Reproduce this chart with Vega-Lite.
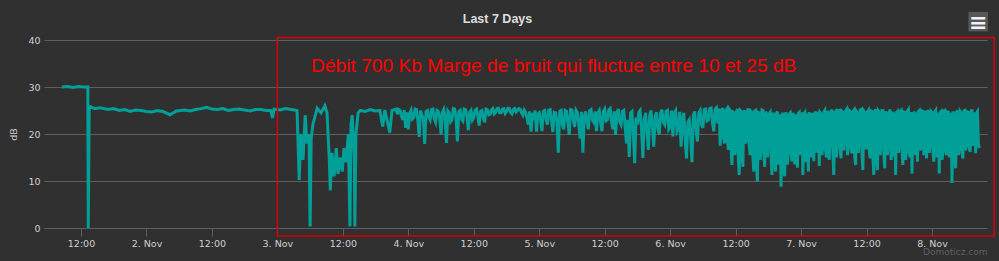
{
  "$schema": "https://vega.github.io/schema/vega-lite/v6.json",
  "width": 943,
  "height": 188,
  "autosize": {"type": "none"},
  "padding": {"left": 44, "top": 40, "right": 12, "bottom": 33},
  "background": "#303031",
  "title": {"text": "Last 7 Days", "anchor": "middle", "offset": -24, "dx": -18, "baseline": "alphabetic", "font": "Liberation Sans", "fontSize": 12.5, "fontWeight": "bold", "color": "#dedede"},
  "config": {"view": {"stroke": null}},
  "encoding": {
    "x": {
      "field": "t", "type": "temporal",
      "scale": {"type": "utc", "domain": [1414818780000, 1415441100000]},
      "axis": {
        "title": "Domoticz.com", "titleAnchor": "end", "titleAlign": "right", "titleBaseline": "top", "titlePadding": 0, "titleFont": "DejaVu Sans", "titleFontSize": 9, "titleFontWeight": "normal", "titleColor": "#5f5f60",
        "values": [1414843200000, 1414886400000, 1414929600000, 1414972800000, 1415016000000, 1415059200000, 1415102400000, 1415145600000, 1415188800000, 1415232000000, 1415275200000, 1415318400000, 1415361600000, 1415404800000],
        "labelExpr": "utchours(datum.value) == 0 ? utcFormat(datum.value, '%-d. %b') : utcFormat(datum.value, '%H:%M')",
        "labelFont": "DejaVu Sans", "labelFontSize": 9.5, "labelColor": "#cfcfcf", "labelPadding": 2, "labelFlush": false, "labelOverlap": false,
        "grid": false, "domain": true, "domainColor": "#5e5e5e", "ticks": true, "tickColor": "#5e5e5e", "tickSize": 8
      }
    },
    "y": {
      "field": "v", "type": "quantitative",
      "scale": {"domain": [0, 40], "nice": false},
      "axis": {
        "title": "dB", "titleFont": "DejaVu Sans", "titleFontSize": 9.5, "titleFontWeight": "normal", "titleColor": "#cfcfcf", "titlePadding": 9,
        "values": [0, 10, 20, 30, 40], "labelFont": "DejaVu Sans", "labelFontSize": 9.5, "labelColor": "#cfcfcf", "labelPadding": 4,
        "grid": true, "gridColor": "#5e5e5e", "gridWidth": 1, "domain": false, "ticks": false
      }
    }
  },
  "layer": [
    {
      "data": {
        "values": [
          {"t": "2014-11-01T08:30Z", "v": 30}, {"t": "2014-11-01T09:30Z", "v": 30.1}, {"t": "2014-11-01T10:30Z", "v": 29.9}, {"t": "2014-11-01T11:30Z", "v": 30.1}, {"t": "2014-11-01T12:30Z", "v": 30}, {"t": "2014-11-01T13:15Z", "v": 30}, {"t": "2014-11-01T13:20Z", "v": 0}, {"t": "2014-11-01T13:30Z", "v": 25.2}, {"t": "2014-11-01T13:45Z", "v": 25.8}, {"t": "2014-11-01T14:30Z", "v": 25.4}, {"t": "2014-11-01T15:30Z", "v": 25.6}, {"t": "2014-11-01T17:00Z", "v": 25.2}, {"t": "2014-11-01T18:00Z", "v": 25.4}, {"t": "2014-11-01T19:00Z", "v": 25.0}, {"t": "2014-11-01T20:00Z", "v": 25.2}, {"t": "2014-11-01T21:00Z", "v": 24.8}, {"t": "2014-11-01T22:00Z", "v": 25.1}, {"t": "2014-11-01T23:00Z", "v": 25.0},
          {"t": "2014-11-02T00:00Z", "v": 24.8}, {"t": "2014-11-02T01:00Z", "v": 24.7}, {"t": "2014-11-02T02:00Z", "v": 25.0}, {"t": "2014-11-02T03:00Z", "v": 24.8}, {"t": "2014-11-02T04:18Z", "v": 24.1}, {"t": "2014-11-02T05:30Z", "v": 24.9}, {"t": "2014-11-02T07:00Z", "v": 25.1}, {"t": "2014-11-02T08:00Z", "v": 24.9}, {"t": "2014-11-02T09:00Z", "v": 25.2}, {"t": "2014-11-02T10:00Z", "v": 25.4}, {"t": "2014-11-02T11:00Z", "v": 25.7}, {"t": "2014-11-02T12:00Z", "v": 25.3}, {"t": "2014-11-02T13:00Z", "v": 25.2}, {"t": "2014-11-02T14:00Z", "v": 25.4}, {"t": "2014-11-02T15:00Z", "v": 25.0}, {"t": "2014-11-02T16:00Z", "v": 25.2}, {"t": "2014-11-02T17:00Z", "v": 25.3}, {"t": "2014-11-02T18:00Z", "v": 25.1}, {"t": "2014-11-02T19:00Z", "v": 24.9}, {"t": "2014-11-02T20:00Z", "v": 25.2}, {"t": "2014-11-02T21:00Z", "v": 25.2}, {"t": "2014-11-02T22:00Z", "v": 25.0}, {"t": "2014-11-02T22:48Z", "v": 25.0}, {"t": "2014-11-02T23:06Z", "v": 23.4}, {"t": "2014-11-02T23:24Z", "v": 25.3},
          {"t": "2014-11-03T00:30Z", "v": 25.1}, {"t": "2014-11-03T01:30Z", "v": 25.4}, {"t": "2014-11-03T02:30Z", "v": 25.2}, {"t": "2014-11-03T03:36Z", "v": 25}, {"t": "2014-11-03T04:00Z", "v": 10.2}, {"t": "2014-11-03T04:18Z", "v": 20}, {"t": "2014-11-03T04:42Z", "v": 14.5}, {"t": "2014-11-03T05:06Z", "v": 24}, {"t": "2014-11-03T05:24Z", "v": 18}, {"t": "2014-11-03T05:48Z", "v": 20}, {"t": "2014-11-03T06:00Z", "v": 0.3}, {"t": "2014-11-03T06:12Z", "v": 19}, {"t": "2014-11-03T06:30Z", "v": 22}, {"t": "2014-11-03T07:18Z", "v": 25.5}, {"t": "2014-11-03T08:00Z", "v": 24.5}, {"t": "2014-11-03T08:42Z", "v": 26}, {"t": "2014-11-03T09:06Z", "v": 24.5}, {"t": "2014-11-03T09:30Z", "v": 15}, {"t": "2014-11-03T09:42Z", "v": 8}, {"t": "2014-11-03T10:00Z", "v": 16}, {"t": "2014-11-03T10:24Z", "v": 11}, {"t": "2014-11-03T10:48Z", "v": 17}, {"t": "2014-11-03T11:06Z", "v": 11.5}, {"t": "2014-11-03T11:30Z", "v": 15}, {"t": "2014-11-03T11:54Z", "v": 12}, {"t": "2014-11-03T12:12Z", "v": 17}, {"t": "2014-11-03T12:36Z", "v": 14}, {"t": "2014-11-03T13:00Z", "v": 20}, {"t": "2014-11-03T13:18Z", "v": 0.3}, {"t": "2014-11-03T13:30Z", "v": 22}, {"t": "2014-11-03T13:42Z", "v": 24}, {"t": "2014-11-03T14:06Z", "v": 15}, {"t": "2014-11-03T14:12Z", "v": 0.3}, {"t": "2014-11-03T14:24Z", "v": 20}, {"t": "2014-11-03T14:48Z", "v": 24.5}, {"t": "2014-11-03T15:12Z", "v": 25}, {"t": "2014-11-03T16:06Z", "v": 24.8}, {"t": "2014-11-03T17:00Z", "v": 25.2}, {"t": "2014-11-03T17:54Z", "v": 24.9}, {"t": "2014-11-03T18:48Z", "v": 25}, {"t": "2014-11-03T19:18Z", "v": 21.6}, {"t": "2014-11-03T19:42Z", "v": 25.1}, {"t": "2014-11-03T20:36Z", "v": 20.3}, {"t": "2014-11-03T21:00Z", "v": 25}, {"t": "2014-11-03T21:48Z", "v": 25.3},
          {"t": "2014-11-03T22:00Z", "v": 24.2}, {"t": "2014-11-03T22:15Z", "v": 25.2}, {"t": "2014-11-03T22:30Z", "v": 25}, {"t": "2014-11-03T22:45Z", "v": 23.8}, {"t": "2014-11-03T23:00Z", "v": 23}, {"t": "2014-11-03T23:15Z", "v": 25.1}, {"t": "2014-11-03T23:30Z", "v": 21.3}, {"t": "2014-11-03T23:45Z", "v": 24.6},
          {"t": "2014-11-04T00:00Z", "v": 21}, {"t": "2014-11-04T00:15Z", "v": 24.3}, {"t": "2014-11-04T00:30Z", "v": 25}, {"t": "2014-11-04T00:45Z", "v": 23.2}, {"t": "2014-11-04T01:00Z", "v": 23.5}, {"t": "2014-11-04T01:15Z", "v": 25.3}, {"t": "2014-11-04T01:30Z", "v": 25.2}, {"t": "2014-11-04T01:45Z", "v": 22.8}, {"t": "2014-11-04T02:00Z", "v": 19.4}, {"t": "2014-11-04T02:15Z", "v": 25}, {"t": "2014-11-04T02:30Z", "v": 24}, {"t": "2014-11-04T02:45Z", "v": 23.4}, {"t": "2014-11-04T03:00Z", "v": 17.9}, {"t": "2014-11-04T03:15Z", "v": 24.8}, {"t": "2014-11-04T03:30Z", "v": 25}, {"t": "2014-11-04T03:45Z", "v": 23.6},
          {"t": "2014-11-04T04:00Z", "v": 23}, {"t": "2014-11-04T04:15Z", "v": 25.2}, {"t": "2014-11-04T04:30Z", "v": 25.3}, {"t": "2014-11-04T04:45Z", "v": 23.2}, {"t": "2014-11-04T05:00Z", "v": 22.5}, {"t": "2014-11-04T05:15Z", "v": 25}, {"t": "2014-11-04T05:30Z", "v": 24.8}, {"t": "2014-11-04T05:45Z", "v": 23.5}, {"t": "2014-11-04T06:00Z", "v": 19.9}, {"t": "2014-11-04T06:15Z", "v": 24.6}, {"t": "2014-11-04T06:30Z", "v": 25.2}, {"t": "2014-11-04T06:45Z", "v": 23.4}, {"t": "2014-11-04T07:00Z", "v": 18.1}, {"t": "2014-11-04T07:15Z", "v": 24.9}, {"t": "2014-11-04T07:30Z", "v": 24.5}, {"t": "2014-11-04T07:45Z", "v": 22.6},
          {"t": "2014-11-04T08:00Z", "v": 23}, {"t": "2014-11-04T08:15Z", "v": 25.4}, {"t": "2014-11-04T08:30Z", "v": 25.3}, {"t": "2014-11-04T08:45Z", "v": 23.5}, {"t": "2014-11-04T09:00Z", "v": 18.4}, {"t": "2014-11-04T09:15Z", "v": 24.7}, {"t": "2014-11-04T09:30Z", "v": 25}, {"t": "2014-11-04T09:45Z", "v": 23.2}, {"t": "2014-11-04T10:00Z", "v": 22.8}, {"t": "2014-11-04T10:15Z", "v": 25.3}, {"t": "2014-11-04T10:30Z", "v": 25.2}, {"t": "2014-11-04T10:45Z", "v": 23.8}, {"t": "2014-11-04T11:00Z", "v": 20.8}, {"t": "2014-11-04T11:15Z", "v": 24.6}, {"t": "2014-11-04T11:30Z", "v": 25}, {"t": "2014-11-04T11:45Z", "v": 23},
          {"t": "2014-11-04T12:00Z", "v": 23.5}, {"t": "2014-11-04T12:15Z", "v": 25.1}, {"t": "2014-11-04T12:30Z", "v": 25.3}, {"t": "2014-11-04T12:45Z", "v": 23.6}, {"t": "2014-11-04T13:00Z", "v": 21.8}, {"t": "2014-11-04T13:15Z", "v": 24.8}, {"t": "2014-11-04T13:30Z", "v": 25}, {"t": "2014-11-04T13:45Z", "v": 23.4}, {"t": "2014-11-04T14:00Z", "v": 22.5}, {"t": "2014-11-04T14:15Z", "v": 25.3}, {"t": "2014-11-04T14:30Z", "v": 25.2}, {"t": "2014-11-04T14:45Z", "v": 24.1}, {"t": "2014-11-04T15:00Z", "v": 24.2}, {"t": "2014-11-04T15:15Z", "v": 25.1}, {"t": "2014-11-04T15:30Z", "v": 25.4}, {"t": "2014-11-04T15:45Z", "v": 24.3},
          {"t": "2014-11-04T16:00Z", "v": 24.6}, {"t": "2014-11-04T16:15Z", "v": 25.4}, {"t": "2014-11-04T16:30Z", "v": 25.5}, {"t": "2014-11-04T16:45Z", "v": 24.5}, {"t": "2014-11-04T17:00Z", "v": 24.5}, {"t": "2014-11-04T17:15Z", "v": 25.3}, {"t": "2014-11-04T17:30Z", "v": 25.4}, {"t": "2014-11-04T17:45Z", "v": 24.4}, {"t": "2014-11-04T18:00Z", "v": 24.8}, {"t": "2014-11-04T18:15Z", "v": 25.5}, {"t": "2014-11-04T18:30Z", "v": 25.5}, {"t": "2014-11-04T18:45Z", "v": 24.6}, {"t": "2014-11-04T19:00Z", "v": 24.3}, {"t": "2014-11-04T19:15Z", "v": 25.2}, {"t": "2014-11-04T19:30Z", "v": 25.4}, {"t": "2014-11-04T19:45Z", "v": 24.7},
          {"t": "2014-11-04T20:00Z", "v": 25}, {"t": "2014-11-04T20:15Z", "v": 25.4}, {"t": "2014-11-04T20:30Z", "v": 25.3}, {"t": "2014-11-04T20:45Z", "v": 24.5}, {"t": "2014-11-04T21:00Z", "v": 24}, {"t": "2014-11-04T21:15Z", "v": 25.1}, {"t": "2014-11-04T21:30Z", "v": 24.6}, {"t": "2014-11-04T21:45Z", "v": 23.5}, {"t": "2014-11-04T22:00Z", "v": 22}, {"t": "2014-11-04T22:15Z", "v": 24.8}, {"t": "2014-11-04T22:30Z", "v": 20.5}, {"t": "2014-11-04T22:45Z", "v": 24.5}, {"t": "2014-11-04T23:00Z", "v": 23}, {"t": "2014-11-04T23:15Z", "v": 25}, {"t": "2014-11-04T23:30Z", "v": 20.5}, {"t": "2014-11-04T23:45Z", "v": 24.2},
          {"t": "2014-11-05T00:00Z", "v": 24.5}, {"t": "2014-11-05T00:15Z", "v": 23}, {"t": "2014-11-05T00:30Z", "v": 20.6}, {"t": "2014-11-05T00:45Z", "v": 24.8}, {"t": "2014-11-05T01:00Z", "v": 25}, {"t": "2014-11-05T01:15Z", "v": 23.2}, {"t": "2014-11-05T01:30Z", "v": 22}, {"t": "2014-11-05T01:45Z", "v": 25.1}, {"t": "2014-11-05T02:00Z", "v": 25.2}, {"t": "2014-11-05T02:15Z", "v": 22.8}, {"t": "2014-11-05T02:30Z", "v": 20.4}, {"t": "2014-11-05T02:45Z", "v": 24.6}, {"t": "2014-11-05T03:00Z", "v": 24.5}, {"t": "2014-11-05T03:15Z", "v": 22.5}, {"t": "2014-11-05T03:30Z", "v": 16}, {"t": "2014-11-05T03:45Z", "v": 24.8},
          {"t": "2014-11-05T04:00Z", "v": 25}, {"t": "2014-11-05T04:15Z", "v": 22}, {"t": "2014-11-05T04:30Z", "v": 21}, {"t": "2014-11-05T04:45Z", "v": 25}, {"t": "2014-11-05T05:00Z", "v": 24.8}, {"t": "2014-11-05T05:15Z", "v": 22.5}, {"t": "2014-11-05T05:30Z", "v": 19.8}, {"t": "2014-11-05T05:45Z", "v": 25.2}, {"t": "2014-11-05T06:00Z", "v": 25.1}, {"t": "2014-11-05T06:15Z", "v": 23}, {"t": "2014-11-05T06:30Z", "v": 21.5}, {"t": "2014-11-05T06:45Z", "v": 25}, {"t": "2014-11-05T07:00Z", "v": 24.5}, {"t": "2014-11-05T07:15Z", "v": 22}, {"t": "2014-11-05T07:30Z", "v": 19}, {"t": "2014-11-05T07:45Z", "v": 24.7},
          {"t": "2014-11-05T08:00Z", "v": 16}, {"t": "2014-11-05T08:15Z", "v": 23.5}, {"t": "2014-11-05T08:30Z", "v": 24.8}, {"t": "2014-11-05T08:45Z", "v": 22.6}, {"t": "2014-11-05T09:00Z", "v": 21}, {"t": "2014-11-05T09:15Z", "v": 25}, {"t": "2014-11-05T09:30Z", "v": 25.2}, {"t": "2014-11-05T09:45Z", "v": 23}, {"t": "2014-11-05T10:00Z", "v": 22.5}, {"t": "2014-11-05T10:15Z", "v": 24.8}, {"t": "2014-11-05T10:30Z", "v": 20.6}, {"t": "2014-11-05T10:45Z", "v": 24.5}, {"t": "2014-11-05T11:00Z", "v": 25}, {"t": "2014-11-05T11:15Z", "v": 22.5}, {"t": "2014-11-05T11:30Z", "v": 20.6}, {"t": "2014-11-05T11:45Z", "v": 24.8},
          {"t": "2014-11-05T12:00Z", "v": 25.3}, {"t": "2014-11-05T12:15Z", "v": 22.8}, {"t": "2014-11-05T12:30Z", "v": 23}, {"t": "2014-11-05T12:45Z", "v": 25.1}, {"t": "2014-11-05T13:00Z", "v": 25.4}, {"t": "2014-11-05T13:15Z", "v": 22.5}, {"t": "2014-11-05T13:30Z", "v": 21}, {"t": "2014-11-05T13:45Z", "v": 24.8}, {"t": "2014-11-05T14:00Z", "v": 19.8}, {"t": "2014-11-05T14:15Z", "v": 24.5}, {"t": "2014-11-05T14:30Z", "v": 25.3}, {"t": "2014-11-05T14:45Z", "v": 22.6}, {"t": "2014-11-05T15:00Z", "v": 22}, {"t": "2014-11-05T15:15Z", "v": 24.8}, {"t": "2014-11-05T15:30Z", "v": 25}, {"t": "2014-11-05T15:45Z", "v": 21.5},
          {"t": "2014-11-05T16:00Z", "v": 18}, {"t": "2014-11-05T16:15Z", "v": 23}, {"t": "2014-11-05T16:30Z", "v": 15.1}, {"t": "2014-11-05T16:45Z", "v": 24.5}, {"t": "2014-11-05T17:00Z", "v": 24.8}, {"t": "2014-11-05T17:15Z", "v": 20}, {"t": "2014-11-05T17:30Z", "v": 13.8}, {"t": "2014-11-05T17:45Z", "v": 23.5}, {"t": "2014-11-05T18:00Z", "v": 22}, {"t": "2014-11-05T18:15Z", "v": 24.6}, {"t": "2014-11-05T18:30Z", "v": 25}, {"t": "2014-11-05T18:45Z", "v": 21}, {"t": "2014-11-05T19:00Z", "v": 14.9}, {"t": "2014-11-05T19:15Z", "v": 23}, {"t": "2014-11-05T19:30Z", "v": 24.5}, {"t": "2014-11-05T19:45Z", "v": 20.5},
          {"t": "2014-11-05T20:00Z", "v": 16.6}, {"t": "2014-11-05T20:15Z", "v": 24}, {"t": "2014-11-05T20:30Z", "v": 25}, {"t": "2014-11-05T20:45Z", "v": 21.5}, {"t": "2014-11-05T21:00Z", "v": 17.3}, {"t": "2014-11-05T21:15Z", "v": 23.8}, {"t": "2014-11-05T21:30Z", "v": 24.6}, {"t": "2014-11-05T21:45Z", "v": 21}, {"t": "2014-11-05T22:00Z", "v": 19.9}, {"t": "2014-11-05T22:15Z", "v": 24.5}, {"t": "2014-11-05T22:30Z", "v": 25.2}, {"t": "2014-11-05T22:45Z", "v": 22.5}, {"t": "2014-11-05T23:00Z", "v": 22}, {"t": "2014-11-05T23:15Z", "v": 24.8}, {"t": "2014-11-05T23:30Z", "v": 25}, {"t": "2014-11-05T23:45Z", "v": 21},
          {"t": "2014-11-06T00:00Z", "v": 21.5}, {"t": "2014-11-06T00:15Z", "v": 25}, {"t": "2014-11-06T00:30Z", "v": 19.5}, {"t": "2014-11-06T00:45Z", "v": 24.5}, {"t": "2014-11-06T01:00Z", "v": 25}, {"t": "2014-11-06T01:15Z", "v": 20.5}, {"t": "2014-11-06T01:30Z", "v": 21}, {"t": "2014-11-06T01:45Z", "v": 24.7}, {"t": "2014-11-06T02:00Z", "v": 17.3}, {"t": "2014-11-06T02:15Z", "v": 23}, {"t": "2014-11-06T02:30Z", "v": 24.5}, {"t": "2014-11-06T02:45Z", "v": 19}, {"t": "2014-11-06T03:00Z", "v": 14.8}, {"t": "2014-11-06T03:15Z", "v": 22.5}, {"t": "2014-11-06T03:30Z", "v": 23}, {"t": "2014-11-06T03:45Z", "v": 19.5},
          {"t": "2014-11-06T04:00Z", "v": 14}, {"t": "2014-11-06T04:15Z", "v": 24}, {"t": "2014-11-06T04:30Z", "v": 24.8}, {"t": "2014-11-06T04:45Z", "v": 21}, {"t": "2014-11-06T05:00Z", "v": 18.4}, {"t": "2014-11-06T05:15Z", "v": 24.5}, {"t": "2014-11-06T05:30Z", "v": 25}, {"t": "2014-11-06T05:45Z", "v": 22}, {"t": "2014-11-06T06:00Z", "v": 21.3}, {"t": "2014-11-06T06:15Z", "v": 25.2}, {"t": "2014-11-06T06:30Z", "v": 25.3}, {"t": "2014-11-06T06:45Z", "v": 22.8}, {"t": "2014-11-06T07:00Z", "v": 23}, {"t": "2014-11-06T07:15Z", "v": 25.4}, {"t": "2014-11-06T07:30Z", "v": 25.5}, {"t": "2014-11-06T07:45Z", "v": 22.5},
          {"t": "2014-11-06T08:00Z", "v": 20.6}, {"t": "2014-11-06T08:15Z", "v": 25.3}, {"t": "2014-11-06T08:30Z", "v": 25.6}, {"t": "2014-11-06T08:45Z", "v": 22.2},
          {"t": "2014-11-06T09:00Z", "v": 25.4}, {"t": "2014-11-06T09:10Z", "v": 17.5}, {"t": "2014-11-06T09:20Z", "v": 21}, {"t": "2014-11-06T09:30Z", "v": 25.1}, {"t": "2014-11-06T09:40Z", "v": 25.5}, {"t": "2014-11-06T09:50Z", "v": 19},
          {"t": "2014-11-06T10:00Z", "v": 18}, {"t": "2014-11-06T10:10Z", "v": 24.9}, {"t": "2014-11-06T10:20Z", "v": 25.2}, {"t": "2014-11-06T10:30Z", "v": 19.5}, {"t": "2014-11-06T10:40Z", "v": 16.6}, {"t": "2014-11-06T10:50Z", "v": 25.3},
          {"t": "2014-11-06T11:00Z", "v": 25}, {"t": "2014-11-06T11:10Z", "v": 17}, {"t": "2014-11-06T11:20Z", "v": 13.4}, {"t": "2014-11-06T11:30Z", "v": 24.7}, {"t": "2014-11-06T11:40Z", "v": 24.6}, {"t": "2014-11-06T11:50Z", "v": 15.5},
          {"t": "2014-11-06T12:00Z", "v": 17}, {"t": "2014-11-06T12:10Z", "v": 24.8}, {"t": "2014-11-06T12:20Z", "v": 25.3}, {"t": "2014-11-06T12:30Z", "v": 14.5}, {"t": "2014-11-06T12:40Z", "v": 11.3}, {"t": "2014-11-06T12:50Z", "v": 25},
          {"t": "2014-11-06T13:00Z", "v": 24.8}, {"t": "2014-11-06T13:10Z", "v": 16.5}, {"t": "2014-11-06T13:20Z", "v": 13}, {"t": "2014-11-06T13:30Z", "v": 24.6}, {"t": "2014-11-06T13:40Z", "v": 25}, {"t": "2014-11-06T13:50Z", "v": 18},
          {"t": "2014-11-06T14:00Z", "v": 19}, {"t": "2014-11-06T14:10Z", "v": 25}, {"t": "2014-11-06T14:20Z", "v": 25.4}, {"t": "2014-11-06T14:30Z", "v": 17.5}, {"t": "2014-11-06T14:40Z", "v": 15.5}, {"t": "2014-11-06T14:50Z", "v": 24.8},
          {"t": "2014-11-06T15:00Z", "v": 24.6}, {"t": "2014-11-06T15:10Z", "v": 15}, {"t": "2014-11-06T15:20Z", "v": 12}, {"t": "2014-11-06T15:30Z", "v": 24.9}, {"t": "2014-11-06T15:40Z", "v": 25}, {"t": "2014-11-06T15:50Z", "v": 13.5},
          {"t": "2014-11-06T16:00Z", "v": 9.9}, {"t": "2014-11-06T16:10Z", "v": 24.6}, {"t": "2014-11-06T16:20Z", "v": 24.5}, {"t": "2014-11-06T16:30Z", "v": 14.5}, {"t": "2014-11-06T16:40Z", "v": 17}, {"t": "2014-11-06T16:50Z", "v": 25.1},
          {"t": "2014-11-06T17:00Z", "v": 25}, {"t": "2014-11-06T17:10Z", "v": 16}, {"t": "2014-11-06T17:20Z", "v": 13}, {"t": "2014-11-06T17:30Z", "v": 24.8}, {"t": "2014-11-06T17:40Z", "v": 24.2}, {"t": "2014-11-06T17:50Z", "v": 15},
          {"t": "2014-11-06T18:00Z", "v": 18}, {"t": "2014-11-06T18:10Z", "v": 24.3}, {"t": "2014-11-06T18:20Z", "v": 24.6}, {"t": "2014-11-06T18:30Z", "v": 15.5}, {"t": "2014-11-06T18:40Z", "v": 11.3}, {"t": "2014-11-06T18:50Z", "v": 24.5},
          {"t": "2014-11-06T19:00Z", "v": 24}, {"t": "2014-11-06T19:10Z", "v": 14.5}, {"t": "2014-11-06T19:20Z", "v": 12}, {"t": "2014-11-06T19:30Z", "v": 24.4}, {"t": "2014-11-06T19:40Z", "v": 24.8}, {"t": "2014-11-06T19:50Z", "v": 13.5},
          {"t": "2014-11-06T20:00Z", "v": 16}, {"t": "2014-11-06T20:10Z", "v": 24.2}, {"t": "2014-11-06T20:20Z", "v": 8.8}, {"t": "2014-11-06T20:30Z", "v": 24}, {"t": "2014-11-06T20:40Z", "v": 24.5}, {"t": "2014-11-06T20:50Z", "v": 12.5},
          {"t": "2014-11-06T21:00Z", "v": 11}, {"t": "2014-11-06T21:10Z", "v": 24.6}, {"t": "2014-11-06T21:20Z", "v": 24}, {"t": "2014-11-06T21:30Z", "v": 13.5}, {"t": "2014-11-06T21:40Z", "v": 17}, {"t": "2014-11-06T21:50Z", "v": 24.3},
          {"t": "2014-11-06T22:00Z", "v": 24.5}, {"t": "2014-11-06T22:10Z", "v": 16}, {"t": "2014-11-06T22:20Z", "v": 14.2}, {"t": "2014-11-06T22:30Z", "v": 24.5}, {"t": "2014-11-06T22:40Z", "v": 23.8}, {"t": "2014-11-06T22:50Z", "v": 13.5},
          {"t": "2014-11-06T23:00Z", "v": 19}, {"t": "2014-11-06T23:10Z", "v": 24.2}, {"t": "2014-11-06T23:20Z", "v": 12.8}, {"t": "2014-11-06T23:30Z", "v": 24.4}, {"t": "2014-11-06T23:40Z", "v": 24.6}, {"t": "2014-11-06T23:50Z", "v": 15.5},
          {"t": "2014-11-07T00:00Z", "v": 20}, {"t": "2014-11-07T00:10Z", "v": 24.6}, {"t": "2014-11-07T00:20Z", "v": 11.3}, {"t": "2014-11-07T00:30Z", "v": 24.2}, {"t": "2014-11-07T00:40Z", "v": 24.5}, {"t": "2014-11-07T00:50Z", "v": 14},
          {"t": "2014-11-07T01:00Z", "v": 16}, {"t": "2014-11-07T01:10Z", "v": 24.4}, {"t": "2014-11-07T01:20Z", "v": 12}, {"t": "2014-11-07T01:30Z", "v": 24.6}, {"t": "2014-11-07T01:40Z", "v": 24}, {"t": "2014-11-07T01:50Z", "v": 15},
          {"t": "2014-11-07T02:00Z", "v": 18.5}, {"t": "2014-11-07T02:10Z", "v": 24.5}, {"t": "2014-11-07T02:20Z", "v": 14.2}, {"t": "2014-11-07T02:30Z", "v": 24.3}, {"t": "2014-11-07T02:40Z", "v": 24.8}, {"t": "2014-11-07T02:50Z", "v": 16},
          {"t": "2014-11-07T03:00Z", "v": 20}, {"t": "2014-11-07T03:10Z", "v": 24.8}, {"t": "2014-11-07T03:20Z", "v": 13.2}, {"t": "2014-11-07T03:30Z", "v": 24.5}, {"t": "2014-11-07T03:40Z", "v": 24.2}, {"t": "2014-11-07T03:50Z", "v": 15.5},
          {"t": "2014-11-07T04:00Z", "v": 18}, {"t": "2014-11-07T04:10Z", "v": 24.7}, {"t": "2014-11-07T04:20Z", "v": 25}, {"t": "2014-11-07T04:30Z", "v": 16.5}, {"t": "2014-11-07T04:40Z", "v": 15}, {"t": "2014-11-07T04:50Z", "v": 24.9},
          {"t": "2014-11-07T05:00Z", "v": 24.5}, {"t": "2014-11-07T05:10Z", "v": 14.5}, {"t": "2014-11-07T05:20Z", "v": 20}, {"t": "2014-11-07T05:30Z", "v": 24.8}, {"t": "2014-11-07T05:40Z", "v": 25.2}, {"t": "2014-11-07T05:50Z", "v": 16},
          {"t": "2014-11-07T06:00Z", "v": 11.3}, {"t": "2014-11-07T06:10Z", "v": 24.6}, {"t": "2014-11-07T06:20Z", "v": 24.8}, {"t": "2014-11-07T06:30Z", "v": 15}, {"t": "2014-11-07T06:40Z", "v": 19}, {"t": "2014-11-07T06:50Z", "v": 25},
          {"t": "2014-11-07T07:00Z", "v": 25}, {"t": "2014-11-07T07:10Z", "v": 17}, {"t": "2014-11-07T07:20Z", "v": 14.8}, {"t": "2014-11-07T07:30Z", "v": 24.8}, {"t": "2014-11-07T07:40Z", "v": 24.6}, {"t": "2014-11-07T07:50Z", "v": 16.5},
          {"t": "2014-11-07T08:00Z", "v": 20}, {"t": "2014-11-07T08:10Z", "v": 24.9}, {"t": "2014-11-07T08:20Z", "v": 25.2}, {"t": "2014-11-07T08:30Z", "v": 15.5}, {"t": "2014-11-07T08:40Z", "v": 17}, {"t": "2014-11-07T08:50Z", "v": 25},
          {"t": "2014-11-07T09:00Z", "v": 24.8}, {"t": "2014-11-07T09:10Z", "v": 17.5}, {"t": "2014-11-07T09:20Z", "v": 15.9}, {"t": "2014-11-07T09:30Z", "v": 24.7}, {"t": "2014-11-07T09:40Z", "v": 25}, {"t": "2014-11-07T09:50Z", "v": 15},
          {"t": "2014-11-07T10:00Z", "v": 13.4}, {"t": "2014-11-07T10:10Z", "v": 24.8}, {"t": "2014-11-07T10:20Z", "v": 24.5}, {"t": "2014-11-07T10:30Z", "v": 16}, {"t": "2014-11-07T10:40Z", "v": 19}, {"t": "2014-11-07T10:50Z", "v": 25.1},
          {"t": "2014-11-07T11:00Z", "v": 25.2}, {"t": "2014-11-07T11:10Z", "v": 15.5}, {"t": "2014-11-07T11:20Z", "v": 12.3}, {"t": "2014-11-07T11:30Z", "v": 24.9}, {"t": "2014-11-07T11:40Z", "v": 24.6}, {"t": "2014-11-07T11:50Z", "v": 17},
          {"t": "2014-11-07T12:00Z", "v": 17}, {"t": "2014-11-07T12:10Z", "v": 24.7}, {"t": "2014-11-07T12:20Z", "v": 25}, {"t": "2014-11-07T12:30Z", "v": 16.5}, {"t": "2014-11-07T12:40Z", "v": 14.8}, {"t": "2014-11-07T12:50Z", "v": 24.9},
          {"t": "2014-11-07T13:00Z", "v": 24.8}, {"t": "2014-11-07T13:10Z", "v": 15}, {"t": "2014-11-07T13:20Z", "v": 11.3}, {"t": "2014-11-07T13:30Z", "v": 24.6}, {"t": "2014-11-07T13:40Z", "v": 25.3}, {"t": "2014-11-07T13:50Z", "v": 14.5},
          {"t": "2014-11-07T14:00Z", "v": 12.3}, {"t": "2014-11-07T14:10Z", "v": 24.9}, {"t": "2014-11-07T14:20Z", "v": 24.6}, {"t": "2014-11-07T14:30Z", "v": 15.5}, {"t": "2014-11-07T14:40Z", "v": 18}, {"t": "2014-11-07T14:50Z", "v": 25},
          {"t": "2014-11-07T15:00Z", "v": 25}, {"t": "2014-11-07T15:10Z", "v": 16}, {"t": "2014-11-07T15:20Z", "v": 12.7}, {"t": "2014-11-07T15:30Z", "v": 24.8}, {"t": "2014-11-07T15:40Z", "v": 24.4}, {"t": "2014-11-07T15:50Z", "v": 15.5},
          {"t": "2014-11-07T16:00Z", "v": 19}, {"t": "2014-11-07T16:10Z", "v": 24.6}, {"t": "2014-11-07T16:20Z", "v": 25.2}, {"t": "2014-11-07T16:30Z", "v": 14.5}, {"t": "2014-11-07T16:40Z", "v": 16}, {"t": "2014-11-07T16:50Z", "v": 24.8},
          {"t": "2014-11-07T17:00Z", "v": 15.2}, {"t": "2014-11-07T17:10Z", "v": 24.5}, {"t": "2014-11-07T17:20Z", "v": 11.3}, {"t": "2014-11-07T17:30Z", "v": 24.6}, {"t": "2014-11-07T17:40Z", "v": 24.8}, {"t": "2014-11-07T17:50Z", "v": 16},
          {"t": "2014-11-07T18:00Z", "v": 18}, {"t": "2014-11-07T18:10Z", "v": 24.8}, {"t": "2014-11-07T18:20Z", "v": 25}, {"t": "2014-11-07T18:30Z", "v": 16.5}, {"t": "2014-11-07T18:40Z", "v": 13.4}, {"t": "2014-11-07T18:50Z", "v": 24.7},
          {"t": "2014-11-07T19:00Z", "v": 24.6}, {"t": "2014-11-07T19:10Z", "v": 14.5}, {"t": "2014-11-07T19:20Z", "v": 17}, {"t": "2014-11-07T19:30Z", "v": 24.9}, {"t": "2014-11-07T19:40Z", "v": 25.2}, {"t": "2014-11-07T19:50Z", "v": 16},
          {"t": "2014-11-07T20:00Z", "v": 15}, {"t": "2014-11-07T20:10Z", "v": 24.7}, {"t": "2014-11-07T20:20Z", "v": 11.6}, {"t": "2014-11-07T20:30Z", "v": 24.4}, {"t": "2014-11-07T20:40Z", "v": 24.5}, {"t": "2014-11-07T20:50Z", "v": 15.5},
          {"t": "2014-11-07T21:00Z", "v": 19}, {"t": "2014-11-07T21:10Z", "v": 24.6}, {"t": "2014-11-07T21:20Z", "v": 14.1}, {"t": "2014-11-07T21:30Z", "v": 24.8}, {"t": "2014-11-07T21:40Z", "v": 25}, {"t": "2014-11-07T21:50Z", "v": 16.5},
          {"t": "2014-11-07T22:00Z", "v": 17.5}, {"t": "2014-11-07T22:10Z", "v": 24.9}, {"t": "2014-11-07T22:20Z", "v": 24.8}, {"t": "2014-11-07T22:30Z", "v": 15.5}, {"t": "2014-11-07T22:40Z", "v": 20}, {"t": "2014-11-07T22:50Z", "v": 25},
          {"t": "2014-11-07T23:00Z", "v": 14.8}, {"t": "2014-11-07T23:10Z", "v": 24.6}, {"t": "2014-11-07T23:20Z", "v": 25.1}, {"t": "2014-11-07T23:30Z", "v": 16}, {"t": "2014-11-07T23:40Z", "v": 18}, {"t": "2014-11-07T23:50Z", "v": 24.8},
          {"t": "2014-11-08T00:00Z", "v": 24.6}, {"t": "2014-11-08T00:10Z", "v": 16.5}, {"t": "2014-11-08T00:20Z", "v": 14.1}, {"t": "2014-11-08T00:30Z", "v": 24.7}, {"t": "2014-11-08T00:40Z", "v": 25}, {"t": "2014-11-08T00:50Z", "v": 15},
          {"t": "2014-11-08T01:00Z", "v": 19}, {"t": "2014-11-08T01:10Z", "v": 24.5}, {"t": "2014-11-08T01:20Z", "v": 11.6}, {"t": "2014-11-08T01:30Z", "v": 24.6}, {"t": "2014-11-08T01:40Z", "v": 24.8}, {"t": "2014-11-08T01:50Z", "v": 14.5},
          {"t": "2014-11-08T02:00Z", "v": 16}, {"t": "2014-11-08T02:10Z", "v": 24.9}, {"t": "2014-11-08T02:20Z", "v": 25}, {"t": "2014-11-08T02:30Z", "v": 17}, {"t": "2014-11-08T02:40Z", "v": 15.5}, {"t": "2014-11-08T02:50Z", "v": 24.7},
          {"t": "2014-11-08T03:00Z", "v": 24.6}, {"t": "2014-11-08T03:10Z", "v": 15}, {"t": "2014-11-08T03:20Z", "v": 19}, {"t": "2014-11-08T03:30Z", "v": 24.5}, {"t": "2014-11-08T03:40Z", "v": 9.6}, {"t": "2014-11-08T03:50Z", "v": 24.8},
          {"t": "2014-11-08T04:00Z", "v": 24.2}, {"t": "2014-11-08T04:10Z", "v": 16}, {"t": "2014-11-08T04:20Z", "v": 12.7}, {"t": "2014-11-08T04:30Z", "v": 24.6}, {"t": "2014-11-08T04:40Z", "v": 25}, {"t": "2014-11-08T04:50Z", "v": 15.5},
          {"t": "2014-11-08T05:00Z", "v": 17}, {"t": "2014-11-08T05:10Z", "v": 24.8}, {"t": "2014-11-08T05:20Z", "v": 24.5}, {"t": "2014-11-08T05:30Z", "v": 16}, {"t": "2014-11-08T05:40Z", "v": 14.8}, {"t": "2014-11-08T05:50Z", "v": 24.9},
          {"t": "2014-11-08T06:00Z", "v": 25}, {"t": "2014-11-08T06:10Z", "v": 16.5}, {"t": "2014-11-08T06:20Z", "v": 18}, {"t": "2014-11-08T06:30Z", "v": 24.7}, {"t": "2014-11-08T06:40Z", "v": 24.6}, {"t": "2014-11-08T06:50Z", "v": 17},
          {"t": "2014-11-08T07:00Z", "v": 16.2}, {"t": "2014-11-08T07:10Z", "v": 24.8}, {"t": "2014-11-08T07:20Z", "v": 25.2}, {"t": "2014-11-08T07:30Z", "v": 17.5}, {"t": "2014-11-08T07:40Z", "v": 19}, {"t": "2014-11-08T07:50Z", "v": 24.6},
          {"t": "2014-11-08T08:00Z", "v": 15.9}, {"t": "2014-11-08T08:10Z", "v": 24.5}, {"t": "2014-11-08T08:20Z", "v": 24.8}, {"t": "2014-11-08T08:30Z", "v": 18}, {"t": "2014-11-08T08:40Z", "v": 17}
        ]
      },
      "mark": {"type": "line", "color": "#00a098", "strokeWidth": 3}
    },
    {
      "data": {"values": [{"t": "2014-11-03T00:00Z", "t2": "2014-11-08T11:24Z", "v": -1.7, "v2": 40.53}]},
      "mark": {"type": "rect", "fill": "transparent", "stroke": "#d80000", "strokeWidth": 1.5, "clip": false},
      "encoding": {"x2": {"field": "t2"}, "y2": {"field": "v2"}}
    },
    {
      "data": {"values": [{"t": "2014-11-03T06:10Z", "v": 33.19, "note": "Débit 700 Kb Marge de bruit qui fluctue entre 10 et 25 dB"}]},
      "mark": {"type": "text", "align": "left", "baseline": "alphabetic", "font": "Liberation Sans", "fontSize": 19.2, "color": "#ff0000"},
      "encoding": {"text": {"field": "note"}}
    },
    {
      "data": {"values": [{"t": "2014-11-08T08:28Z", "v": 43.9, "icon": "≡"}]},
      "layer": [
        {"mark": {"type": "point", "shape": "square", "size": 380, "filled": true, "color": "#58585a", "opacity": 1}},
        {"mark": {"type": "text", "align": "center", "baseline": "middle", "font": "DejaVu Sans", "fontSize": 22, "fontWeight": "bold", "color": "#f2f2f2", "dy": 1}, "encoding": {"text": {"field": "icon"}}}
      ]
    }
  ]
}
